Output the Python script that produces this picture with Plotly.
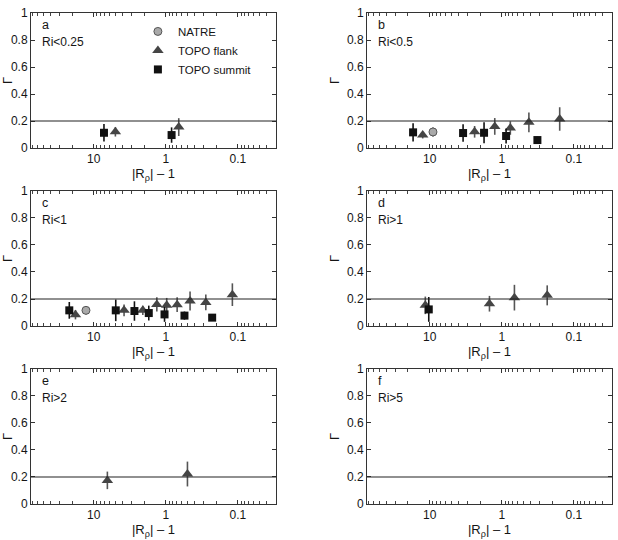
import plotly.graph_objects as go

# ---------------- data (x = |R_rho| - 1, y = Gamma, err = half-length of error bar)
REF_GAMMA = 0.2
panel_letters = ["a", "b", "c", "d", "e", "f"]
panel_labels = ["Ri<0.25", "Ri<0.5", "Ri<1", "Ri>1", "Ri>2", "Ri>5"]
series_names = ["NATRE", "TOPO flank", "TOPO summit"]

# panel a
a_natre_x, a_natre_y, a_natre_err = [], [], []
a_flank_x = [5.0, 0.66]
a_flank_y = [0.12, 0.155]
a_flank_err = [0.035, 0.066]
a_summit_x = [7.2, 0.83]
a_summit_y = [0.113, 0.096]
a_summit_err = [0.065, 0.057]

# panel b
b_natre_x = [9.0]
b_natre_y = [0.119]
b_natre_err = [0.035]
b_flank_x = [12.5, 2.38, 1.25, 0.76, 0.42, 0.157]
b_flank_y = [0.096, 0.12, 0.16, 0.148, 0.19, 0.215]
b_flank_err = [0.025, 0.043, 0.062, 0.05, 0.073, 0.087]
b_summit_x = [17.0, 3.44, 1.76, 0.87, 0.32]
b_summit_y = [0.116, 0.111, 0.113, 0.089, 0.059]
b_summit_err = [0.067, 0.065, 0.077, 0.055, 0.025]

# panel c
c_natre_x = [12.8]
c_natre_y = [0.116]
c_natre_err = [0.03]
c_flank_x = [17.9, 3.79, 2.08, 1.33, 0.97, 0.695, 0.46, 0.278, 0.119]
c_flank_y = [0.084, 0.116, 0.116, 0.16, 0.153, 0.158, 0.185, 0.175, 0.232]
c_flank_err = [0.035, 0.043, 0.035, 0.053, 0.055, 0.055, 0.07, 0.058, 0.084]
c_summit_x = [21.8, 4.94, 2.72, 1.72, 1.04, 0.55, 0.227]
c_summit_y = [0.116, 0.116, 0.111, 0.096, 0.086, 0.077, 0.062]
c_summit_err = [0.062, 0.08, 0.072, 0.055, 0.055, 0.03, 0.025]

# panel d
d_natre_x, d_natre_y, d_natre_err = [], [], []
d_flank_x = [11.5, 1.48, 0.667, 0.234]
d_flank_y = [0.153, 0.165, 0.21, 0.227]
d_flank_err = [0.065, 0.058, 0.095, 0.074]
d_summit_x = [10.3]
d_summit_y = [0.123]
d_summit_err = [0.092]

# panel e
e_natre_x, e_natre_y, e_natre_err = [], [], []
e_flank_x = [6.46, 0.50]
e_flank_y = [0.175, 0.222]
e_flank_err = [0.065, 0.092]
e_summit_x, e_summit_y, e_summit_err = [], [], []

# panel f (no data)
f_natre_x, f_natre_y, f_natre_err = [], [], []
f_flank_x, f_flank_y, f_flank_err = [], [], []
f_summit_x, f_summit_y, f_summit_err = [], [], []

panels = [
    [(a_natre_x, a_natre_y, a_natre_err), (a_flank_x, a_flank_y, a_flank_err), (a_summit_x, a_summit_y, a_summit_err)],
    [(b_natre_x, b_natre_y, b_natre_err), (b_flank_x, b_flank_y, b_flank_err), (b_summit_x, b_summit_y, b_summit_err)],
    [(c_natre_x, c_natre_y, c_natre_err), (c_flank_x, c_flank_y, c_flank_err), (c_summit_x, c_summit_y, c_summit_err)],
    [(d_natre_x, d_natre_y, d_natre_err), (d_flank_x, d_flank_y, d_flank_err), (d_summit_x, d_summit_y, d_summit_err)],
    [(e_natre_x, e_natre_y, e_natre_err), (e_flank_x, e_flank_y, e_flank_err), (e_summit_x, e_summit_y, e_summit_err)],
    [(f_natre_x, f_natre_y, f_natre_err), (f_flank_x, f_flank_y, f_flank_err), (f_summit_x, f_summit_y, f_summit_err)],
]

# ---------------- styles
FONT = "Arial, Liberation Sans, Helvetica, sans-serif"
TXT = "#151515"
styles = [
    dict(symbol="circle", size=8, color="#a9a9a9", line=dict(color="#555555", width=1), err="#777777"),
    dict(symbol="triangle-up", size=10, color="#454545", line=dict(color="#454545", width=0), err="#555555"),
    dict(symbol="square", size=8, color="#111111", line=dict(color="#111111", width=0), err="#111111"),
]
ranks = [1, 2, 3]

fig = go.Figure()

xdoms = [[0.0, 0.4217], [0.5783, 1.0]]
ydoms = [[0.725, 1.0], [0.3625, 0.6375], [0.0, 0.275]]

shown = set()
for p in range(6):
    r, c = divmod(p, 2)
    ax = "" if p == 0 else str(p + 1)
    for s in range(3):
        xs, ys, es = panels[p][s]
        if len(xs) == 0:
            continue
        st = styles[s]
        show = series_names[s] not in shown
        shown.add(series_names[s])
        fig.add_trace(go.Scatter(
            x=xs, y=ys, mode="markers", name=series_names[s],
            legendgroup=series_names[s], showlegend=show, legendrank=ranks[s],
            marker=dict(symbol=st["symbol"], size=st["size"], color=st["color"], line=st["line"]),
            error_y=dict(type="data", array=es, visible=True, width=0, thickness=1.6, color=st["err"]),
            xaxis="x" + ax, yaxis="y" + ax,
        ))

    xa = dict(
        domain=xdoms[c], anchor="y" + ax, type="log", range=[1.87, -1.53], automargin=False,
        dtick=1, showline=True, linecolor="#333333", linewidth=1, mirror="allticks",
        ticks="inside", ticklen=4, tickcolor="#333333", showgrid=False, zeroline=False,
        minor=dict(ticks="inside", ticklen=3, tickcolor="#444444", showgrid=False),
        tickfont=dict(family=FONT, size=12, color=TXT),
        title=dict(text="|R<sub>ρ</sub>| – 1", font=dict(family=FONT, size=13, color=TXT), standoff=2),
    )
    ya = dict(
        domain=ydoms[r], anchor="x" + ax, range=[0, 1], dtick=0.2, automargin=False,
        showline=True, linecolor="#333333", linewidth=1, mirror="allticks",
        ticks="inside", ticklen=4, tickcolor="#333333", showgrid=False, zeroline=False,
        tickfont=dict(family=FONT, size=12, color=TXT),
        title=dict(text="Γ", font=dict(family=FONT, size=13, color=TXT),
                   standoff=(20 if c == 0 else 4)),
    )
    fig.update_layout(**{"xaxis" + ax: xa, "yaxis" + ax: ya})

    fig.add_shape(type="line", xref="x" + ax + " domain", yref="y" + ax,
                  x0=0, x1=1, y0=REF_GAMMA, y1=REF_GAMMA,
                  line=dict(color="#222222", width=1.2))
    fig.add_annotation(text=panel_letters[p], xref="x" + ax + " domain", yref="y" + ax + " domain",
                       x=0.035, y=0.91, xanchor="left", yanchor="middle", showarrow=False,
                       font=dict(family=FONT, size=12.5, color=TXT))
    fig.add_annotation(text=panel_labels[p].replace("<", "&lt;"), xref="x" + ax + " domain",
                       yref="y" + ax + " domain", x=0.035, y=0.785, xanchor="left", yanchor="middle",
                       showarrow=False, font=dict(family=FONT, size=12, color=TXT))

fig.update_layout(
    width=618, height=540,
    margin=dict(l=31, r=6, t=13, b=36, autoexpand=False),
    paper_bgcolor="white", plot_bgcolor="white",
    font=dict(family=FONT, size=12, color=TXT),
    showlegend=True,
    legend=dict(x=0.184, y=0.992, xanchor="left", yanchor="top", bgcolor="rgba(0,0,0,0)",
                font=dict(family=FONT, size=11.5, color=TXT), tracegroupgap=0,
                borderwidth=0),
)

fig.write_html("out.html")
